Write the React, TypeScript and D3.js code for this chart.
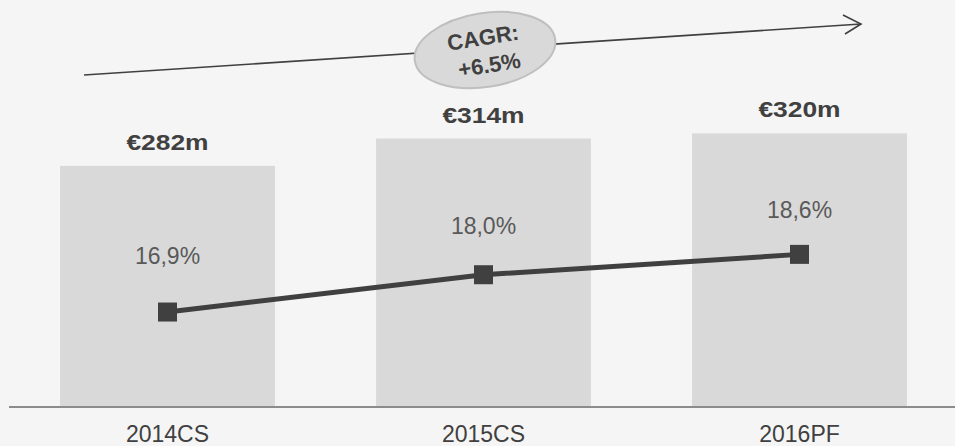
import React from "react";
import * as d3 from "d3";

const categories = ["2014CS", "2015CS", "2016PF"];
const revenue = [282, 314, 320];
const revenueLabels = ["€282m", "€314m", "€320m"];
const margin = [16.9, 18.0, 18.6];
const marginLabels = ["16,9%", "18,0%", "18,6%"];
const cagrLines = ["CAGR:", "+6.5%"];

const W = 955;
const H = 446;
const FONT = "'Liberation Sans', Arial, sans-serif";

export default function App() {
  const x = d3.scaleBand<string>().domain(categories).range([9.5, 957.5]).paddingInner(0.32).paddingOuter(0.16);
  const y = d3.scaleLinear().domain([0, 476]).range([407, 0]);
  const y2 = d3.scaleLinear().domain([14.1, 26.1]).range([407, 0]);
  const yLabel = d3.scaleLinear().domain([16.9, 18.6]).range([264, 218]);
  const cx = (c: string) => (x(c) as number) + x.bandwidth() / 2;
  const line = d3.line<number>().x((_, i) => cx(categories[i])).y((d) => y2(d));
  const arrowStart: [number, number] = [84, 75];
  const arrowEnd: [number, number] = [861, 24];
  return (
    <svg width={W} height={H} style={{ position: "absolute", left: 0, top: 0, display: "block" }}>
      <rect x={0} y={0} width={W} height={H} fill="#f5f5f5" />
      {categories.map((c, i) => (
        <rect key={c} x={x(c)} y={y(revenue[i])} width={x.bandwidth()} height={y(0) - y(revenue[i])} fill="#d9d9d9" />
      ))}
      <line x1={9} x2={W} y1={407} y2={407} stroke="#8c8c8c" strokeWidth={2} />
      {categories.map((c) => (
        <text key={c} x={cx(c)} y={442} textAnchor="middle" fontFamily={FONT} fontSize={23} fill="#404040">{c}</text>
      ))}
      {categories.map((c, i) => (
        <g key={c} transform={`translate(${cx(c)},${y(revenue[i]) - 16}) scale(1.2,1)`}>
          <text x={0} y={0} textAnchor="middle" fontFamily={FONT} fontSize={22} fontWeight="bold" fill="#404040">{revenueLabels[i]}</text>
        </g>
      ))}
      <path d={line(margin) || ""} fill="none" stroke="#404040" strokeWidth={5} />
      {categories.map((c, i) => (
        <rect key={c} x={cx(c) - 9.5} y={y2(margin[i]) - 9.5} width={19} height={19} fill="#404040" />
      ))}
      {categories.map((c, i) => (
        <text key={c} x={cx(c)} y={yLabel(margin[i])} textAnchor="middle" fontFamily={FONT} fontSize={23} fill="#595959">{marginLabels[i]}</text>
      ))}
      <line x1={arrowStart[0]} y1={arrowStart[1]} x2={arrowEnd[0]} y2={arrowEnd[1]} stroke="#404040" strokeWidth={1.6} />
      <polyline points={`843,15 ${arrowEnd[0]},${arrowEnd[1]} 845,34`} fill="none" stroke="#404040" strokeWidth={1.6} />
      <g transform="translate(485,50) rotate(-9)">
        <ellipse cx={0} cy={0} rx={71} ry={37} fill="#d9d9d9" stroke="#bfbfbf" strokeWidth={2} />
        <text x={0} y={-5} textAnchor="middle" fontFamily={FONT} fontSize={22} fontWeight="bold" fill="#404040">{cagrLines[0]}</text>
        <text x={2} y={23} textAnchor="middle" fontFamily={FONT} fontSize={22} fontWeight="bold" fill="#404040">{cagrLines[1]}</text>
      </g>
    </svg>
  );
}
